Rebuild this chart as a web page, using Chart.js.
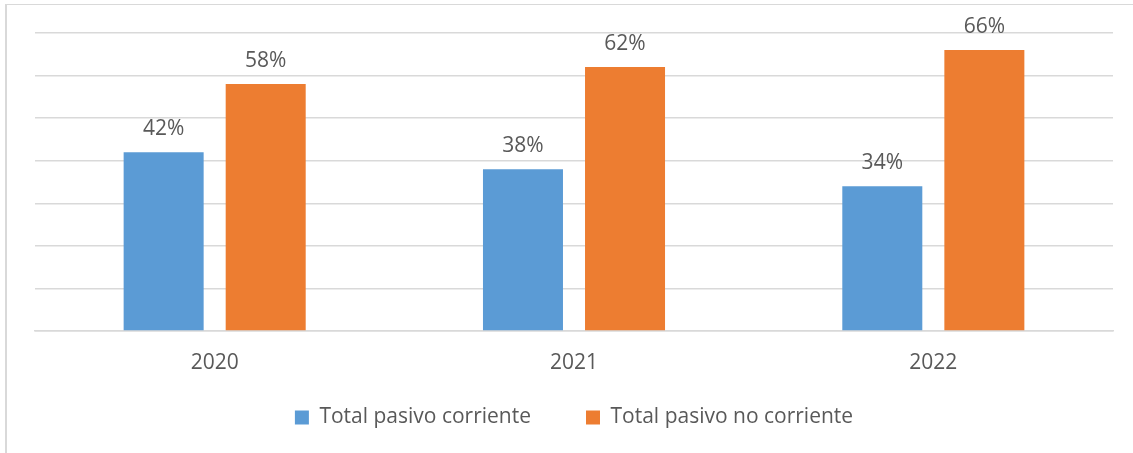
<!DOCTYPE html>
<html>
<head>
<meta charset="utf-8">
<script src="https://cdn.jsdelivr.net/npm/chart.js@4"></script>
<style>
  html, body { margin: 0; padding: 0; background: #fff; }
  body { width: 1133px; height: 453px; position: relative; overflow: hidden; }
  /* frame around the chart, only the top and left edges are in view */
  #frame {
    position: absolute; left: 5px; top: 4px; width: 1200px; height: 500px;
    border-left: 2px solid #d9d9d9; border-top: 1px solid #d9d9d9;
  }
  #chart { position: absolute; left: 0; top: 0; }
</style>
</head>
<body>
<div id="frame"></div>
<canvas id="chart" width="1133" height="453"></canvas>
<script>
// Share of current vs non-current liabilities per year (percent)
const years = ["2020", "2021", "2022"];
const pasivoCorriente = [42, 38, 34];
const pasivoNoCorriente = [58, 62, 66];
const yTicks = [0, 10, 20, 30, 40, 50, 60, 70];

const TEXT_COLOR = "#595959";
const FONT = "'Open Sans', 'Noto Sans', sans-serif";
const FONT_SIZE = 21;

// Writes the percentage above each bar
const valueLabels = {
  id: "valueLabels",
  afterDatasetsDraw(chart) {
    const ctx = chart.ctx;
    ctx.save();
    ctx.font = `${FONT_SIZE}px ${FONT}`;
    ctx.fillStyle = TEXT_COLOR;
    ctx.textAlign = "center";
    ctx.textBaseline = "middle";
    chart.data.datasets.forEach((ds, i) => {
      const meta = chart.getDatasetMeta(i);
      meta.data.forEach((bar, j) => {
        ctx.fillText(ds.data[j] + "%", bar.x, bar.y - 23);
      });
    });
    ctx.restore();
  },
};

// The x axis is kept short so the legend can sit close to the plot;
// let its labels run below the axis box instead of being clipped.
const looseAxisLabels = {
  id: "looseAxisLabels",
  afterLayout(chart) {
    chart.scales.x.bottom = chart.height;
  },
};

new Chart(document.getElementById("chart"), {
  type: "bar",
  data: {
    labels: years,
    datasets: [
      {
        label: "Total pasivo corriente",
        data: pasivoCorriente,
        backgroundColor: "#5B9BD5",
        categoryPercentage: 0.568,
        barPercentage: 0.784,
      },
      {
        label: "Total pasivo no corriente",
        data: pasivoNoCorriente,
        backgroundColor: "#ED7D31",
        categoryPercentage: 0.568,
        barPercentage: 0.784,
      },
    ],
  },
  options: {
    responsive: false,
    animation: false,
    layout: {
      padding: { left: 35, right: 20, top: 33, bottom: 15 },
    },
    plugins: {
      tooltip: { enabled: false },
      legend: {
        position: "bottom",
        labels: {
          boxWidth: 14,
          boxHeight: 14,
          padding: 55,
          color: TEXT_COLOR,
          font: { family: FONT, size: FONT_SIZE },
        },
      },
    },
    scales: {
      x: {
        grid: { display: false, drawTicks: false },
        border: { display: true, color: "#d9d9d9", width: 1.5 },
        ticks: {
          color: TEXT_COLOR,
          font: { family: FONT, size: FONT_SIZE },
          padding: 19,
        },
        afterFit(scale) {
          scale.height = 21;
        },
      },
      y: {
        min: 0,
        max: 70,
        afterBuildTicks(scale) {
          scale.ticks = yTicks.map((v) => ({ value: v }));
        },
        ticks: { display: false },
        grid: { color: "#d9d9d9", lineWidth: 1.5, drawTicks: false },
        border: { display: false },
        afterFit(scale) {
          scale.width = 0;
        },
      },
    },
  },
  plugins: [valueLabels, looseAxisLabels],
});
</script>
</body>
</html>
